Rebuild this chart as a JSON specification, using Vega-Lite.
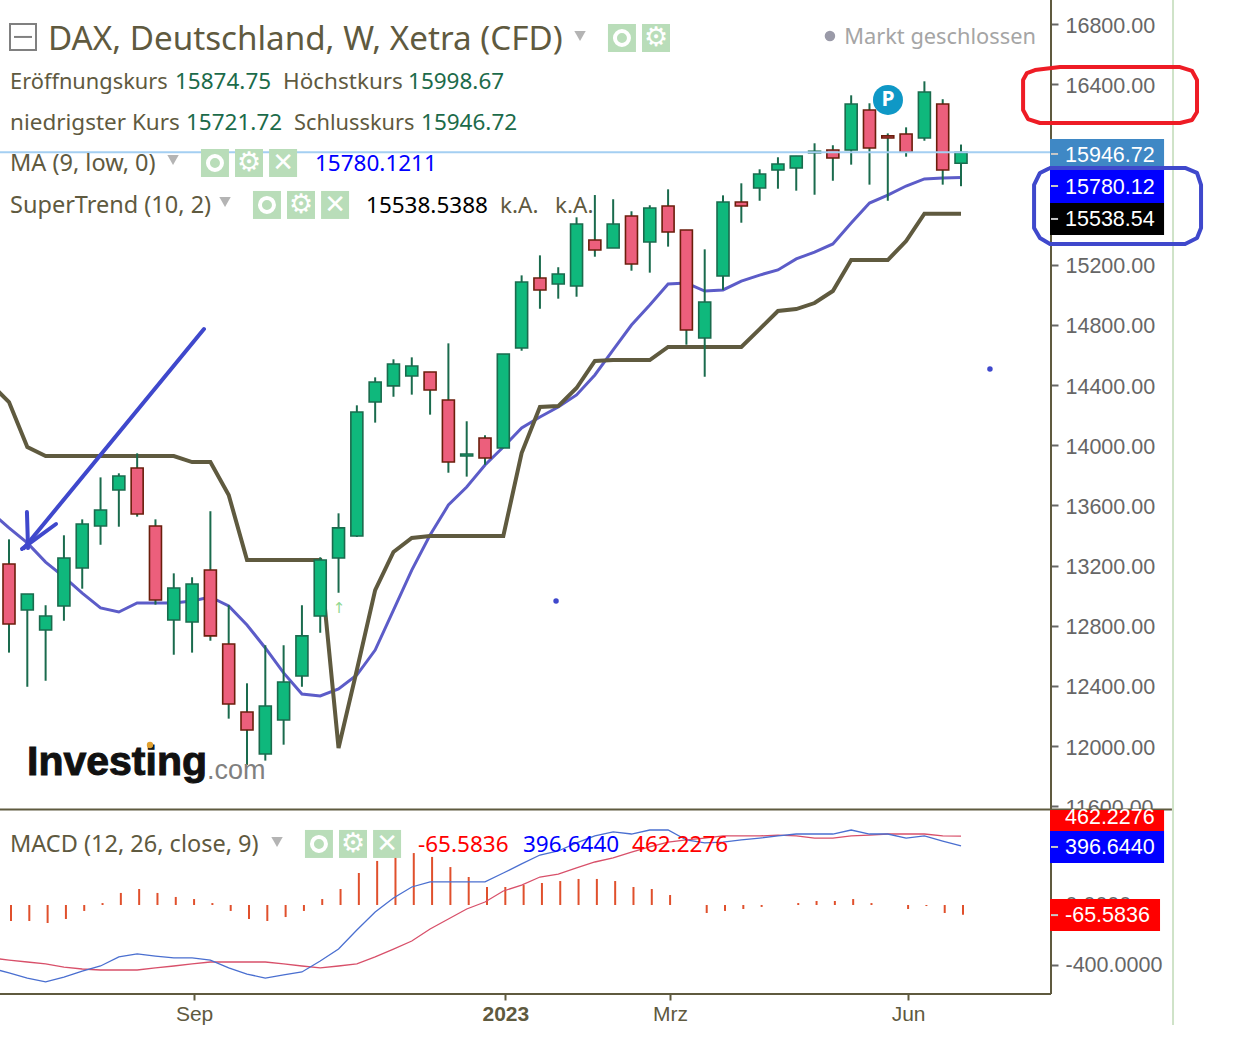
{
  "$schema": "https://vega.github.io/schema/vega-lite/v6.json",
  "description": "DAX weekly candles with MA, SuperTrend and MACD",
  "width": 1245,
  "height": 1059,
  "padding": 0,
  "autosize": {"type": "none"},
  "background": "white",
  "config": {"view": {"stroke": null}, "text": {"font": "Noto Sans"}},
  "datasets": {
    "weeks": [
      {"week":-1,"ma":13556,"supertrend":14407,"macd":-423,"signal":-356},
      {"week":0,"open":13210,"high":13374,"low":12621,"close":12811,"ma":13450,"supertrend":14287,"macd":-457,"signal":-370,"hist":-107.5},
      {"week":1,"open":12904,"high":13011,"low":12394,"close":13011,"ma":13350,"supertrend":13988,"macd":-491,"signal":-383,"hist":-107.5},
      {"week":2,"open":12771,"high":12936,"low":12434,"close":12864,"ma":13223,"supertrend":13928,"macd":-517,"signal":-396,"hist":-121},
      {"week":3,"open":12931,"high":13401,"low":12833,"close":13250,"ma":13124,"supertrend":13928,"macd":-484,"signal":-417,"hist":-94},
      {"week":4,"open":13184,"high":13507,"low":13046,"close":13476,"ma":13017,"supertrend":13928,"macd":-444,"signal":-430,"hist":-40},
      {"week":5,"open":13463,"high":13786,"low":13338,"close":13569,"ma":12918,"supertrend":13928,"macd":-410,"signal":-437,"hist":13},
      {"week":6,"open":13702,"high":13813,"low":13458,"close":13795,"ma":12891,"supertrend":13928,"macd":-349,"signal":-437,"hist":81},
      {"week":7,"open":13848,"high":13946,"low":13525,"close":13543,"ma":12951,"supertrend":13928,"macd":-329,"signal":-437,"hist":107.5},
      {"week":8,"open":13463,"high":13507,"low":12940,"close":12971,"ma":12951,"supertrend":13928,"macd":-343,"signal":-423,"hist":81},
      {"week":9,"open":12838,"high":13148,"low":12607,"close":13051,"ma":12951,"supertrend":13928,"macd":-356,"signal":-410,"hist":54},
      {"week":10,"open":12825,"high":13122,"low":12621,"close":13077,"ma":12964,"supertrend":13888,"macd":-356,"signal":-396,"hist":40},
      {"week":11,"open":13170,"high":13561,"low":12700,"close":12732,"ma":12991,"supertrend":13888,"macd":-370,"signal":-383,"hist":13},
      {"week":12,"open":12678,"high":12936,"low":12182,"close":12279,"ma":12931,"supertrend":13669,"macd":-423,"signal":-383,"hist":-40},
      {"week":13,"open":12226,"high":12417,"low":11874,"close":12107,"ma":12805,"supertrend":13237,"macd":-464,"signal":-383,"hist":-94},
      {"week":14,"open":11947,"high":12670,"low":11903,"close":12266,"ma":12652,"supertrend":13237,"macd":-491,"signal":-383,"hist":-107.5},
      {"week":15,"open":12173,"high":12670,"low":12009,"close":12426,"ma":12486,"supertrend":13237,"macd":-470,"signal":-396,"hist":-81},
      {"week":16,"open":12466,"high":12936,"low":12394,"close":12732,"ma":12346,"supertrend":13237,"macd":-450,"signal":-410,"hist":-40},
      {"week":17,"open":12864,"high":13255,"low":12753,"close":13237,"ma":12333,"supertrend":13237,"macd":-376,"signal":-423,"hist":40},
      {"week":18,"open":13250,"high":13547,"low":13019,"close":13450,"ma":12379,"supertrend":11987,"macd":-296,"signal":-410,"hist":107.5},
      {"week":19,"open":13396,"high":14265,"low":13390,"close":14221,"ma":12472,"supertrend":12505,"macd":-168,"signal":-396,"hist":215},
      {"week":20,"open":14287,"high":14451,"low":14150,"close":14420,"ma":12638,"supertrend":13037,"macd":-47,"signal":-349,"hist":296},
      {"week":21,"open":14394,"high":14571,"low":14322,"close":14540,"ma":12904,"supertrend":13290,"macd":47,"signal":-296,"hist":336},
      {"week":22,"open":14460,"high":14584,"low":14336,"close":14526,"ma":13170,"supertrend":13383,"macd":121,"signal":-242,"hist":349},
      {"week":23,"open":14487,"high":14487,"low":14203,"close":14367,"ma":13403,"supertrend":13396,"macd":155,"signal":-161,"hist":323},
      {"week":24,"open":14300,"high":14677,"low":13817,"close":13888,"ma":13602,"supertrend":13396,"macd":155,"signal":-94,"hist":255},
      {"week":25,"open":13928,"high":14159,"low":13791,"close":13941,"ma":13722,"supertrend":13396,"macd":155,"signal":-27,"hist":188},
      {"week":26,"open":14048,"high":14066,"low":13870,"close":13915,"ma":13868,"supertrend":13396,"macd":155,"signal":20,"hist":121},
      {"week":27,"open":13981,"high":14606,"low":13981,"close":14606,"ma":13988,"supertrend":13396,"macd":215,"signal":94,"hist":121},
      {"week":28,"open":14646,"high":15129,"low":14628,"close":15085,"ma":14114,"supertrend":13948,"macd":276,"signal":134,"hist":134},
      {"week":29,"open":15111,"high":15262,"low":14907,"close":15032,"ma":14187,"supertrend":14254,"macd":336,"signal":188,"hist":148},
      {"week":30,"open":15072,"high":15183,"low":14974,"close":15138,"ma":14254,"supertrend":14260,"macd":363,"signal":208,"hist":161},
      {"week":31,"open":15058,"high":15515,"low":14987,"close":15470,"ma":14334,"supertrend":14380,"macd":417,"signal":249,"hist":175},
      {"week":32,"open":15364,"high":15663,"low":15253,"close":15298,"ma":14467,"supertrend":14560,"macd":464,"signal":289,"hist":175},
      {"week":33,"open":15311,"high":15635,"low":15311,"close":15470,"ma":14633,"supertrend":14566,"macd":491,"signal":316,"hist":161},
      {"week":34,"open":15524,"high":15555,"low":15160,"close":15205,"ma":14799,"supertrend":14566,"macd":477,"signal":356,"hist":121},
      {"week":35,"open":15351,"high":15595,"low":15147,"close":15577,"ma":14932,"supertrend":14566,"macd":504,"signal":390,"hist":107.5},
      {"week":36,"open":15590,"high":15701,"low":15320,"close":15417,"ma":15072,"supertrend":14653,"macd":504,"signal":423,"hist":67},
      {"week":37,"open":15431,"high":15431,"low":14668,"close":14766,"ma":15078,"supertrend":14653,"macd":437,"signal":437,"hist":0},
      {"week":38,"open":14713,"high":15302,"low":14455,"close":14952,"ma":15025,"supertrend":14653,"macd":417,"signal":450,"hist":-54},
      {"week":39,"open":15125,"high":15661,"low":15032,"close":15617,"ma":15032,"supertrend":14653,"macd":423,"signal":464,"hist":-40},
      {"week":40,"open":15617,"high":15741,"low":15479,"close":15590,"ma":15091,"supertrend":14653,"macd":437,"signal":464,"hist":-27},
      {"week":41,"open":15710,"high":15834,"low":15625,"close":15803,"ma":15131,"supertrend":14772,"macd":450,"signal":464,"hist":-13},
      {"week":42,"open":15829,"high":15914,"low":15705,"close":15869,"ma":15165,"supertrend":14892,"macd":464,"signal":470,"hist":0},
      {"week":43,"open":15843,"high":15923,"low":15692,"close":15923,"ma":15238,"supertrend":14905,"macd":477,"signal":464,"hist":13},
      {"week":44,"open":15944,"high":16007,"low":15665,"close":15954,"ma":15284,"supertrend":14945,"macd":477,"signal":450,"hist":27},
      {"week":45,"open":15962,"high":15994,"low":15758,"close":15909,"ma":15338,"supertrend":15025,"macd":477,"signal":450,"hist":27},
      {"week":46,"open":15962,"high":16326,"low":15865,"close":16268,"ma":15477,"supertrend":15231,"macd":504,"signal":464,"hist":40},
      {"week":47,"open":16228,"high":16273,"low":15732,"close":15976,"ma":15610,"supertrend":15231,"macd":477,"signal":470,"hist":13},
      {"week":48,"open":16056,"high":16073,"low":15625,"close":16042,"ma":15663,"supertrend":15231,"macd":477,"signal":477,"hist":0},
      {"week":49,"open":16069,"high":16113,"low":15918,"close":15949,"ma":15723,"supertrend":15357,"macd":450,"signal":477,"hist":-27},
      {"week":50,"open":16042,"high":16419,"low":16024,"close":16348,"ma":15770,"supertrend":15538.54,"macd":464,"signal":477,"hist":-7},
      {"week":51,"open":16268,"high":16300,"low":15732,"close":15829,"ma":15776,"supertrend":15538.54,"macd":430,"signal":464,"hist":-54},
      {"week":52,"open":15874.75,"high":15998.67,"low":15721.72,"close":15946.72,"ma":15780.12,"supertrend":15538.54,"macd":396.64,"signal":462.23,"hist":-65.58}
    ],
    "frame": [
      {"path":"right","ord":0,"week":56.915,"price":16959.6,"tone":"olive"},
      {"path":"right","ord":1,"week":56.915,"price":10351.5,"tone":"olive"},
      {"path":"split","ord":0,"week":-0.4916,"price":11578,"tone":"olive"},
      {"path":"split","ord":1,"week":63.52,"price":11578,"tone":"olive"},
      {"path":"base","ord":0,"week":-0.4916,"price":10351.5,"tone":"olive"},
      {"path":"base","ord":1,"week":56.915,"price":10351.5,"tone":"olive"},
      {"path":"edge","ord":0,"week":63.58,"price":16959.6,"tone":"faint"},
      {"path":"edge","ord":1,"week":63.58,"price":10145,"tone":"faint"}
    ],
    "scribbles": [
      {"path":"redbox","ord":0,"week":56.04,"price":16494,"tone":"pen red"},
      {"path":"redbox","ord":1,"week":57.41,"price":16514,"tone":"pen red"},
      {"path":"redbox","ord":2,"week":63.96,"price":16514,"tone":"pen red"},
      {"path":"redbox","ord":3,"week":64.62,"price":16488,"tone":"pen red"},
      {"path":"redbox","ord":4,"week":64.89,"price":16428,"tone":"pen red"},
      {"path":"redbox","ord":5,"week":64.89,"price":16215,"tone":"pen red"},
      {"path":"redbox","ord":6,"week":64.62,"price":16162,"tone":"pen red"},
      {"path":"redbox","ord":7,"week":63.96,"price":16142,"tone":"pen red"},
      {"path":"redbox","ord":8,"week":56.31,"price":16142,"tone":"pen red"},
      {"path":"redbox","ord":9,"week":55.66,"price":16168,"tone":"pen red"},
      {"path":"redbox","ord":10,"week":55.39,"price":16228,"tone":"pen red"},
      {"path":"redbox","ord":11,"week":55.39,"price":16428,"tone":"pen red"},
      {"path":"redbox","ord":12,"week":55.6,"price":16474,"tone":"pen red"},
      {"path":"redbox","ord":13,"week":56.04,"price":16494,"tone":"pen red"},
      {"path":"bluebox","ord":0,"week":56.86,"price":15843,"tone":"pen blue"},
      {"path":"bluebox","ord":1,"week":64.24,"price":15843,"tone":"pen blue"},
      {"path":"bluebox","ord":2,"week":64.89,"price":15810,"tone":"pen blue"},
      {"path":"bluebox","ord":3,"week":65.11,"price":15730,"tone":"pen blue"},
      {"path":"bluebox","ord":4,"week":65.11,"price":15444,"tone":"pen blue"},
      {"path":"bluebox","ord":5,"week":64.89,"price":15377,"tone":"pen blue"},
      {"path":"bluebox","ord":6,"week":64.24,"price":15338,"tone":"pen blue"},
      {"path":"bluebox","ord":7,"week":56.86,"price":15338,"tone":"pen blue"},
      {"path":"bluebox","ord":8,"week":56.31,"price":15377,"tone":"pen blue"},
      {"path":"bluebox","ord":9,"week":55.99,"price":15444,"tone":"pen blue"},
      {"path":"bluebox","ord":10,"week":55.99,"price":15730,"tone":"pen blue"},
      {"path":"bluebox","ord":11,"week":56.31,"price":15810,"tone":"pen blue"},
      {"path":"bluebox","ord":12,"week":56.86,"price":15843,"tone":"pen blue"},
      {"path":"arrow","ord":0,"week":10.65,"price":14772,"tone":"pen blue"},
      {"path":"arrow","ord":1,"week":0.82,"price":13316,"tone":"pen blue"},
      {"path":"barb1","ord":0,"week":0.98,"price":13556,"tone":"pen blue"},
      {"path":"barb1","ord":1,"week":1.04,"price":13316,"tone":"pen blue"},
      {"path":"barb2","ord":0,"week":2.57,"price":13476,"tone":"pen blue"},
      {"path":"barb2","ord":1,"week":0.71,"price":13310,"tone":"pen blue"}
    ],
    "tags": [
      {"tone":"steel","week":56.86,"right":63.09,"top":16035,"bottom":15829},
      {"tone":"blue","week":56.86,"right":63.09,"top":15829,"bottom":15610},
      {"tone":"black","week":56.86,"right":63.09,"top":15610,"bottom":15397},
      {"tone":"red","week":56.86,"right":63.09,"top":11575,"bottom":11435},
      {"tone":"blue","week":56.86,"right":63.09,"top":11435,"bottom":11222},
      {"tone":"red","week":56.86,"right":62.87,"top":10983,"bottom":10770}
    ],
    "tagText": [
      {"label":"15946.72","week":57.68,"price":15921},
      {"label":"15780.12","week":57.68,"price":15708},
      {"label":"15538.54","week":57.68,"price":15496},
      {"label":"462.2276","week":57.68,"price":11520},
      {"label":"396.6440","week":57.68,"price":11321},
      {"label":"-65.5836","week":57.68,"price":10869}
    ],
    "tagTicks": [
      {"week":56.915,"right":57.3,"price":15936},
      {"week":56.915,"right":57.3,"price":15723},
      {"week":56.915,"right":57.3,"price":15504},
      {"week":56.915,"right":57.3,"price":11329},
      {"week":56.915,"right":57.3,"price":10876}
    ],
    "labels": [
      {"label":"Eröffnungskurs","week":0.055,"price":16414,"tone":"olive"},
      {"label":"15874.75","week":9.067,"price":16414,"tone":"green"},
      {"label":"Höchstkurs","week":14.966,"price":16414,"tone":"olive"},
      {"label":"15998.67","week":21.794,"price":16414,"tone":"green"},
      {"label":"niedrigster Kurs","week":0.055,"price":16141,"tone":"olive"},
      {"label":"15721.72","week":9.668,"price":16141,"tone":"green"},
      {"label":"Schlusskurs","week":15.567,"price":16141,"tone":"olive"},
      {"label":"15946.72","week":22.504,"price":16141,"tone":"green"},
      {"label":"MA (9, low, 0)","week":0.055,"price":15869,"tone":"olive"},
      {"label":"15780.1211","week":16.714,"price":15869,"tone":"blue"},
      {"label":"SuperTrend (10, 2)","week":0.055,"price":15590,"tone":"olive"},
      {"label":"15538.5388","week":19.5,"price":15590,"tone":"black"},
      {"label":"k.A.","week":26.819,"price":15590,"tone":"olive"},
      {"label":"k.A.","week":29.823,"price":15590,"tone":"olive"},
      {"label":"MACD (12, 26, close, 9)","week":0.055,"price":11342,"tone":"olive"},
      {"label":"-65.5836","week":22.34,"price":11342,"tone":"red"},
      {"label":"396.6440","week":28.075,"price":11342,"tone":"blue"},
      {"label":"462.2276","week":34.029,"price":11342,"tone":"red"},
      {"label":"Markt geschlossen","week":45.62,"price":16713,"tone":"gray"}
    ],
    "buttons": [
      {"kind":"eye","week":33.48,"price":16707},
      {"kind":"gear","week":35.34,"price":16707},
      {"kind":"eye","week":11.25,"price":15876},
      {"kind":"gear","week":13.11,"price":15876},
      {"kind":"close","week":14.97,"price":15876},
      {"kind":"eye","week":14.09,"price":15597},
      {"kind":"gear","week":15.95,"price":15597},
      {"kind":"close","week":17.81,"price":15597},
      {"kind":"eye","week":16.93,"price":11349},
      {"kind":"gear","week":18.79,"price":11349},
      {"kind":"close","week":20.65,"price":11349}
    ],
    "carets": [
      {"week":31.19,"price":16720},
      {"week":8.96,"price":15896},
      {"week":11.8,"price":15617},
      {"week":14.64,"price":11362}
    ]
  },
  "encoding": {
    "x": {
      "field": "week",
      "type": "quantitative",
      "title": null,
      "scale": {"domain": [-0.4916, 67.511], "nice": false, "zero": false, "padding": 0},
      "axis": {
        "orient": "bottom",
        "offset": -65,
        "values": [10.11, 27.11, 36.11, 49.11],
        "labelExpr": "datum.value < 11 ? 'Sep' : datum.value < 28 ? '2023' : datum.value < 37 ? 'Mrz' : 'Jun'",
        "labelFontWeight": {"condition": {"test": "datum.value > 27 && datum.value < 28", "value": "bold"}, "value": "normal"},
        "grid": false,
        "domain": false,
        "tickColor": "#5f5a3f",
        "tickSize": 6,
        "tickWidth": 2,
        "labelFont": "Liberation Sans",
        "labelFontSize": 21,
        "labelColor": "#5f5a3f",
        "labelPadding": 3
      }
    }
  },
  "resolve": {"scale": {"y": "independent"}},
  "layer": [
    {
      "data": {"name": "weeks"},
      "mark": {"type": "point", "opacity": 0},
      "encoding": {
        "y": {
          "field": "close",
          "type": "quantitative",
          "title": null,
          "scale": {"domain": [9919.4, 16959.6], "nice": false, "zero": false},
          "axis": {
            "orient": "right",
            "offset": -194,
            "values": [16800, 16400, 15200, 14800, 14400, 14000, 13600, 13200, 12800, 12400, 12000, 11600],
            "format": ".2f",
            "grid": false,
            "domain": false,
            "tickColor": "#666666",
            "tickSize": 7,
            "tickWidth": 2,
            "labelFont": "Liberation Sans",
            "labelFontSize": 21.5,
            "labelColor": "#666666",
            "labelPadding": 7,
            "labelOffset": 2
          }
        }
      }
    },
    {
      "data": {"name": "weeks"},
      "mark": {"type": "point", "opacity": 0},
      "encoding": {
        "y": {
          "field": "macd",
          "type": "quantitative",
          "title": null,
          "scale": {"domain": [-1035, 6082], "nice": false, "zero": false},
          "axis": {
            "orient": "right",
            "offset": -194,
            "values": [0, -400],
            "labelExpr": "(datum.value < 0 ? '-' : '') + format(abs(datum.value), '.4f')",
            "grid": false,
            "domain": false,
            "tickColor": "#666666",
            "tickSize": 7,
            "tickWidth": 2,
            "labelFont": "Liberation Sans",
            "labelFontSize": 21.5,
            "labelColor": "#666666",
            "labelPadding": 7,
            "labelOffset": 1
          }
        }
      }
    },
    {
      "layer": [
        {
          "data": {"name": "weeks"},
          "transform": [{"filter": "datum.hist != null"}],
          "mark": {"type": "rule", "color": "#e0502c", "strokeWidth": 2, "xOffset": 2},
          "encoding": {
            "y": {
              "field": "hist",
              "type": "quantitative",
              "title": null,
              "scale": {"domain": [-1035, 6082], "nice": false, "zero": false},
              "axis": null
            },
            "y2": {"datum": 0}
          }
        },
        {
          "data": {"name": "weeks"},
          "mark": {"type": "line", "color": "#d8506a", "strokeWidth": 1.3, "clip": true},
          "encoding": {"y": {"field": "signal", "type": "quantitative", "axis": null}}
        },
        {
          "data": {"name": "weeks"},
          "mark": {"type": "line", "color": "#4a6fd0", "strokeWidth": 1.3, "clip": true},
          "encoding": {"y": {"field": "macd", "type": "quantitative", "axis": null}}
        }
      ]
    },
    {
      "layer": [
        {
          "data": {"name": "frame"},
          "mark": {"type": "line", "strokeWidth": 2},
          "encoding": {
            "y": {
              "field": "price",
              "type": "quantitative",
              "title": null,
              "scale": {"domain": [9919.4, 16959.6], "nice": false, "zero": false},
              "axis": null
            },
            "color": {
              "field": "tone",
              "type": "nominal",
              "legend": null,
              "scale": {
                "domain": ["olive", "green", "blue", "black", "red", "gray", "steel", "faint", "pen red", "pen blue"],
                "range": ["#5f5a3f", "#1c6b4a", "#0000ff", "#000000", "#ff0000", "#a5a5a5", "#3f88c5", "#cfe3c8", "#ee1c25", "#3f48cc"]
              }
            },
            "detail": {"field": "path"},
            "order": {"field": "ord"}
          }
        },
        {
          "data": {"name": "weeks"},
          "mark": {"type": "line", "color": "#5c5cc8", "strokeWidth": 3, "clip": true},
          "encoding": {"y": {"field": "ma", "type": "quantitative", "axis": null}}
        },
        {
          "data": {"name": "weeks"},
          "mark": {"type": "line", "color": "#5f5a3f", "strokeWidth": 4, "clip": true},
          "encoding": {"y": {"field": "supertrend", "type": "quantitative", "axis": null}}
        },
        {
          "data": {"name": "weeks"},
          "transform": [{"filter": "datum.high != null"}],
          "mark": {"type": "rule", "color": "#1a6b4d", "strokeWidth": 2},
          "encoding": {
            "y": {"field": "high", "type": "quantitative", "axis": null},
            "y2": {"field": "low"}
          }
        },
        {
          "data": {"name": "weeks"},
          "transform": [{"filter": "datum.open != null"}],
          "mark": {"type": "bar", "width": 12, "strokeWidth": 1.6},
          "encoding": {
            "y": {"field": "open", "type": "quantitative", "axis": null},
            "y2": {"field": "close"},
            "fill": {"condition": {"test": "datum.close >= datum.open", "value": "#0fb87c"}, "value": "#ec5f7c"},
            "stroke": {"condition": {"test": "datum.close >= datum.open", "value": "#1a6b4d"}, "value": "#6b1e0c"}
          }
        },
        {
          "data": {"values": [{"week": -0.4916, "price": 15946.72}, {"week": 56.915, "price": 15946.72}]},
          "mark": {"type": "line", "color": "#a4cff2", "strokeWidth": 2},
          "encoding": {"y": {"field": "price", "type": "quantitative", "axis": null}}
        },
        {
          "data": {"values": [{"label": "Investing", "week": 0.983, "price": 11887}]},
          "mark": {"type": "text", "font": "Liberation Sans", "fontWeight": "bold", "fontSize": 41, "align": "left", "baseline": "middle", "color": "#111111", "stroke": "#111111", "strokeWidth": 1},
          "encoding": {"y": {"field": "price", "type": "quantitative", "axis": null}, "text": {"field": "label"}}
        },
        {
          "data": {"values": [{"label": ".com", "week": 10.81, "price": 11834}]},
          "mark": {"type": "text", "font": "Liberation Sans", "fontSize": 27, "align": "left", "baseline": "middle", "color": "#808080"},
          "encoding": {"y": {"field": "price", "type": "quantitative", "axis": null}, "text": {"field": "label"}}
        },
        {
          "data": {"values": [{"week": 7.7, "price": 12007}]},
          "mark": {"type": "point", "shape": "circle", "filled": true, "size": 40, "color": "#e0a030", "opacity": 1},
          "encoding": {"y": {"field": "price", "type": "quantitative", "axis": null}}
        },
        {
          "data": {"values": [{"week": 48.01, "price": 16295}]},
          "mark": {"type": "point", "shape": "circle", "filled": true, "size": 900, "color": "#0f98c6", "opacity": 1},
          "encoding": {"y": {"field": "price", "type": "quantitative", "axis": null}}
        },
        {
          "data": {"values": [{"label": "P", "week": 48.01, "price": 16295}]},
          "mark": {"type": "text", "fontWeight": "bold", "fontSize": 21, "color": "white", "align": "center", "baseline": "middle"},
          "encoding": {"y": {"field": "price", "type": "quantitative", "axis": null}, "text": {"field": "label"}}
        },
        {
          "data": {"values": [{"label": "↑", "week": 18.02, "price": 12918}]},
          "mark": {"type": "text", "font": "DejaVu Sans", "fontSize": 15, "color": "#90d890", "align": "center", "baseline": "middle"},
          "encoding": {"y": {"field": "price", "type": "quantitative", "axis": null}, "text": {"field": "label"}}
        },
        {
          "data": {"values": [{"week": 53.58, "price": 14506}, {"week": 29.88, "price": 12964}]},
          "mark": {"type": "point", "shape": "circle", "filled": true, "size": 30, "color": "#3f48cc", "opacity": 1},
          "encoding": {"y": {"field": "price", "type": "quantitative", "axis": null}}
        },
        {
          "data": {"values": [{"week": 0.765, "price": 16714}]},
          "mark": {"type": "point", "shape": "square", "filled": false, "size": 676, "color": "#808080", "strokeWidth": 2, "opacity": 1},
          "encoding": {"y": {"field": "price", "type": "quantitative", "axis": null}}
        },
        {
          "data": {"values": [{"week": 0.765, "price": 16714}]},
          "mark": {"type": "point", "shape": "stroke", "filled": false, "size": 324, "color": "#808080", "strokeWidth": 2, "opacity": 1},
          "encoding": {"y": {"field": "price", "type": "quantitative", "axis": null}}
        },
        {
          "data": {"values": [{"week": 44.84, "price": 16720}]},
          "mark": {"type": "point", "shape": "circle", "filled": true, "size": 110, "color": "#9a9aa8", "opacity": 1},
          "encoding": {"y": {"field": "price", "type": "quantitative", "axis": null}}
        },
        {
          "data": {"name": "carets"},
          "mark": {"type": "point", "shape": "triangle-down", "filled": true, "size": 130, "color": "#b4b4b4", "opacity": 1},
          "encoding": {"y": {"field": "price", "type": "quantitative", "axis": null}}
        },
        {
          "data": {"name": "buttons"},
          "mark": {"type": "point", "shape": "square", "filled": true, "size": 784, "color": "#b9ddb9", "opacity": 1},
          "encoding": {"y": {"field": "price", "type": "quantitative", "axis": null}}
        },
        {
          "data": {"name": "buttons"},
          "transform": [{"filter": "datum.kind == 'eye'"}],
          "mark": {"type": "point", "shape": "circle", "filled": false, "size": 196, "color": "white", "strokeWidth": 4, "opacity": 1},
          "encoding": {"y": {"field": "price", "type": "quantitative", "axis": null}}
        },
        {
          "data": {"name": "buttons"},
          "transform": [{"filter": "datum.kind == 'gear'"}],
          "mark": {"type": "text", "text": "⚙", "font": "DejaVu Sans", "fontSize": 27, "color": "white", "align": "center", "baseline": "middle"},
          "encoding": {"y": {"field": "price", "type": "quantitative", "axis": null}}
        },
        {
          "data": {"name": "buttons"},
          "transform": [{"filter": "datum.kind == 'close'"}],
          "mark": {"type": "text", "text": "✕", "font": "DejaVu Sans", "fontSize": 26, "fontWeight": "bold", "color": "white", "align": "center", "baseline": "middle"},
          "encoding": {"y": {"field": "price", "type": "quantitative", "axis": null}}
        },
        {
          "data": {"values": [{"label": "DAX, Deutschland, W, Xetra (CFD)", "week": 2.13, "price": 16697}]},
          "mark": {"type": "text", "fontSize": 33.2, "align": "left", "baseline": "middle", "color": "#5f5a3f"},
          "encoding": {"y": {"field": "price", "type": "quantitative", "axis": null}, "text": {"field": "label"}}
        },
        {
          "data": {"name": "labels"},
          "transform": [{"filter": "indexof(['MA (9, low, 0)', 'SuperTrend (10, 2)', 'MACD (12, 26, close, 9)', 'Eröffnungskurs', 'Schlusskurs', 'Markt geschlossen'], datum.label) < 0"}],
          "mark": {"type": "text", "fontSize": 22.5, "align": "left", "baseline": "middle"},
          "encoding": {
            "y": {"field": "price", "type": "quantitative", "axis": null},
            "text": {"field": "label"},
            "color": {"field": "tone", "type": "nominal", "legend": null}
          }
        },
        {
          "data": {"name": "labels"},
          "transform": [{"filter": "indexof(['MA (9, low, 0)', 'SuperTrend (10, 2)', 'MACD (12, 26, close, 9)'], datum.label) >= 0"}],
          "mark": {"type": "text", "fontSize": 23.5, "align": "left", "baseline": "middle"},
          "encoding": {
            "y": {"field": "price", "type": "quantitative", "axis": null},
            "text": {"field": "label"},
            "color": {"field": "tone", "type": "nominal", "legend": null}
          }
        },
        {
          "data": {"name": "labels"},
          "transform": [{"filter": "indexof(['Eröffnungskurs', 'Schlusskurs', 'Markt geschlossen'], datum.label) >= 0"}],
          "mark": {"type": "text", "fontSize": 21.8, "align": "left", "baseline": "middle"},
          "encoding": {
            "y": {"field": "price", "type": "quantitative", "axis": null},
            "text": {"field": "label"},
            "color": {"field": "tone", "type": "nominal", "legend": null}
          }
        },
        {
          "data": {"name": "tags"},
          "mark": {"type": "rect"},
          "encoding": {
            "x2": {"field": "right"},
            "y": {"field": "top", "type": "quantitative", "axis": null},
            "y2": {"field": "bottom"},
            "color": {"field": "tone", "type": "nominal", "legend": null}
          }
        },
        {
          "data": {"name": "tagTicks"},
          "mark": {"type": "rule", "color": "#c8c8c8", "strokeWidth": 2},
          "encoding": {
            "x2": {"field": "right"},
            "y": {"field": "price", "type": "quantitative", "axis": null}
          }
        },
        {
          "data": {"name": "tagText"},
          "mark": {"type": "text", "font": "Liberation Sans", "fontSize": 21.5, "align": "left", "baseline": "middle", "color": "white"},
          "encoding": {
            "y": {"field": "price", "type": "quantitative", "axis": null},
            "text": {"field": "label"}
          }
        },
        {
          "data": {"name": "scribbles"},
          "mark": {"type": "line", "strokeWidth": 4, "strokeCap": "round", "strokeJoin": "round"},
          "encoding": {
            "y": {"field": "price", "type": "quantitative", "axis": null},
            "color": {"field": "tone", "type": "nominal", "legend": null},
            "detail": {"field": "path"},
            "order": {"field": "ord"}
          }
        }
      ]
    }
  ]
}
